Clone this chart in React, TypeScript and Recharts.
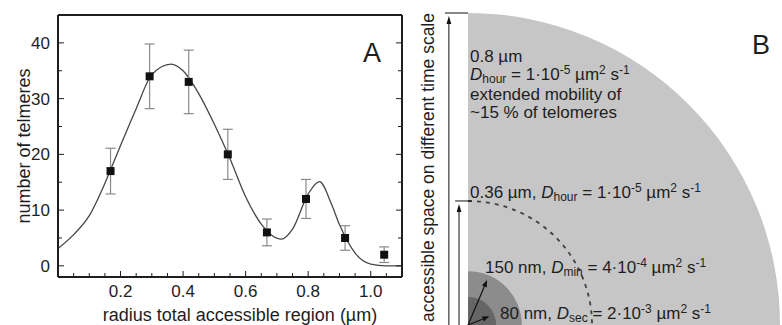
import {
  ComposedChart,
  Customized,
  ErrorBar,
  Line,
  ReferenceLine,
  Scatter,
  Sector,
  XAxis,
  YAxis,
} from "recharts";

const FONT = '"Liberation Sans", Arial, sans-serif';
const INK = "#1e1e1e";

// panel A: histogram of accessible radius (bin centres in µm)
const binRadius = [0.168, 0.293, 0.418, 0.543, 0.668, 0.793, 0.918, 1.043];
const telomereCount = [17, 34, 33, 20, 6, 12, 5, 2];
const countError = [4.1, 5.8, 5.7, 4.5, 2.4, 3.5, 2.2, 1.4];

// fitted curve
const fitRadius = [
  0, 0.05, 0.1, 0.15, 0.2, 0.25, 0.3, 0.362, 0.4, 0.45, 0.5, 0.55, 0.6, 0.65,
  0.714, 0.75, 0.8, 0.836, 0.875, 0.9, 0.95, 1.0, 1.05, 1.1,
];
const fitCount = [
  3.1, 5.6, 9.0, 14.8, 21.6, 28.2, 34.3, 36.2, 35.0, 30.9, 25.4, 19.2, 12.4,
  7.5, 4.8, 6.6, 12.9, 15.1, 11.0, 7.4, 2.3, 0.3, 0, 0,
];

const xTicks = [
  0.05, 0.1, 0.15, 0.2, 0.25, 0.3, 0.35, 0.4, 0.45, 0.5, 0.55, 0.6, 0.65, 0.7,
  0.75, 0.8, 0.85, 0.9, 0.95, 1.0, 1.05,
];
const xMajorTicks = [0.2, 0.4, 0.6, 0.8, 1.0];
const yTicks = [0, 5, 10, 15, 20, 25, 30, 35, 40];
const yMajorTicks = [0, 10, 20, 30, 40];

// panel B: radii of the sketch (µm, as drawn)
const outerRadius = 0.8;
const hourRadius = 0.318;
const minRadius = 0.138;
const secRadius = 0.072;

const pointData = binRadius.map((x, i) => ({
  x,
  count: telomereCount[i],
  err: countError[i],
}));
const fitData = fitRadius.map((x, i) => ({ x, fit: fitCount[i] }));

const isMajor = (v: number, majors: number[]) =>
  majors.some((m) => Math.abs(m - v) < 1e-6);

const frameLine = { stroke: INK, strokeWidth: 2 };

const BottomTick = (p: any) => {
  const v = p.payload.value;
  const major = isMajor(v, xMajorTicks);
  return (
    <g>
      <line x1={p.x} x2={p.x} y1={p.y} y2={p.y - (major ? 6 : 4)} stroke={INK} />
      {major && (
        <text
          x={p.x}
          y={p.y + 20}
          textAnchor="middle"
          fontSize={17}
          fill={INK}
          fontFamily={FONT}
        >
          {v.toFixed(1)}
        </text>
      )}
    </g>
  );
};

const TopTick = (p: any) => {
  const major = isMajor(p.payload.value, xMajorTicks);
  return <line x1={p.x} x2={p.x} y1={p.y} y2={p.y + (major ? 6 : 4)} stroke={INK} />;
};

const LeftTick = (p: any) => {
  const v = p.payload.value;
  const major = isMajor(v, yMajorTicks);
  return (
    <g>
      <line x1={p.x} x2={p.x + (major ? 6 : 4)} y1={p.y} y2={p.y} stroke={INK} />
      {major && (
        <text
          x={p.x - 8}
          y={p.y}
          dy="0.35em"
          textAnchor="end"
          fontSize={17}
          fill={INK}
          fontFamily={FONT}
        >
          {v}
        </text>
      )}
    </g>
  );
};

const RightTick = (p: any) => {
  const major = isMajor(p.payload.value, yMajorTicks);
  return <line x1={p.x} x2={p.x - (major ? 6 : 4)} y1={p.y} y2={p.y} stroke={INK} />;
};

const PanelAText = () => (
  <g fontFamily={FONT} fill={INK}>
    <text x={363} y={62} fontSize={27}>
      A
    </text>
    <text x={240} y={321} fontSize={18} textAnchor="middle">
      radius total accessible region (µm)
    </text>
    <text transform="translate(30,146) rotate(-90)" fontSize={18} textAnchor="middle">
      number of telmeres
    </text>
  </g>
);

type Seg = { t: string; sub?: boolean; sup?: boolean; it?: boolean };

const RichText = ({ x, y, segs }: { x: number; y: number; segs: Seg[] }) => {
  let shift = 0;
  return (
    <text x={x} y={y} fontSize={17} style={{ whiteSpace: "pre" }}>
      {segs.map((s, i) => {
        const target = s.sub ? 3 : s.sup ? -6 : 0;
        const dy = target - shift;
        shift = target;
        return (
          <tspan
            key={i}
            dy={dy}
            fontSize={s.sub || s.sup ? 12 : 17}
            fontStyle={s.it ? "italic" : undefined}
          >
            {s.t}
          </tspan>
        );
      })}
    </text>
  );
};

const diffusion = (lead: string, sub: string, mant: string, exp: string): Seg[] => [
  { t: lead },
  { t: "D", it: true },
  { t: sub, sub: true },
  { t: ` = ${mant}·10` },
  { t: exp, sup: true },
  { t: " µm" },
  { t: "2", sup: true },
  { t: " s" },
  { t: "-1", sup: true },
];

// panel B sits at x = 405 on the page; texts are laid over the chart
const PanelBText = () => (
  <g fontFamily={FONT} fill={INK}>
    <text transform="translate(29,13) rotate(-90)" fontSize={17.5} textAnchor="end">
      accessible space on different time scale
    </text>
    <text x={347} y={54} fontSize={27}>
      B
    </text>
    <text x={65} y={62} fontSize={17}>
      0.8 µm
    </text>
    <RichText x={65} y={80} segs={diffusion("", "hour", "1", "-5")} />
    <text x={65} y={100} fontSize={17}>
      extended mobility of
    </text>
    <text x={65} y={118} fontSize={17}>
      ~15 % of telomeres
    </text>
    <RichText x={65} y={198} segs={diffusion("0.36 µm, ", "hour", "1", "-5")} />
    <RichText x={80} y={273} segs={diffusion("150 nm, ", "min", "4", "-4")} />
    <RichText x={95} y={319} segs={diffusion("80 nm, ", "sec", "2", "-3")} />
  </g>
);

const diskShape = (fill: string) => (p: any) => (
  <Sector
    cx={p.x1}
    cy={p.y1}
    innerRadius={0}
    outerRadius={p.x2 - p.x1}
    startAngle={0}
    endAngle={90}
    fill={fill}
    stroke="none"
  />
);

const dashedArc = (p: any) => {
  const r = p.x2 - p.x1;
  return (
    <path
      d={`M ${p.x1} ${p.y1 - r} A ${r} ${r} 0 0 1 ${p.x1 + r} ${p.y1}`}
      fill="none"
      stroke="#404040"
      strokeWidth={1.8}
      strokeDasharray="4 5"
    />
  );
};

const radialArrow = (deg: number) => (p: any) => {
  const a = (deg * Math.PI) / 180;
  const r = p.x2 - p.x1 - 5;
  const c = Math.cos(a);
  const s = Math.sin(a);
  const tx = p.x1 + r * c;
  const ty = p.y1 - r * s;
  const bx = tx - 7 * c;
  const by = ty + 7 * s;
  return (
    <g>
      <line x1={p.x1} y1={p.y1} x2={bx} y2={by} stroke="#111" strokeWidth={1.2} />
      <polygon
        points={`${tx},${ty} ${bx + 2.6 * s},${by + 2.6 * c} ${bx - 2.6 * s},${by - 2.6 * c}`}
        fill="#111"
      />
    </g>
  );
};

const upArrow = (p: any) => {
  const tip = p.y2 + 3;
  return (
    <g>
      <line x1={p.x1} y1={p.y1} x2={p.x2} y2={tip + 7} stroke="#111" strokeWidth={1} />
      <polygon
        points={`${p.x2},${tip} ${p.x2 - 2.4},${tip + 8} ${p.x2 + 2.4},${tip + 8}`}
        fill="#111"
      />
    </g>
  );
};

const PX_PER_UM = 390;
const B_W = 377;
const B_H = 325;
const B_ORIGIN_X = 63;
const bXDomain = [-B_ORIGIN_X / PX_PER_UM, (B_W - B_ORIGIN_X) / PX_PER_UM];
const bYDomain = [0, B_H / PX_PER_UM];

// annotation bar positions (µm, left of the centre)
const outerBarX = -0.049;
const hourBarX = -0.023;

const PanelA = () => (
  <ComposedChart width={410} height={325} margin={{ top: 0, right: 0, bottom: 0, left: 0 }}>
    <XAxis
      dataKey="x"
      type="number"
      domain={[0, 1.1]}
      allowDataOverflow
      ticks={xTicks}
      interval={0}
      tick={BottomTick}
      tickLine={false}
      tickSize={0}
      tickMargin={0}
      height={48}
      axisLine={frameLine}
    />
    <XAxis
      xAxisId="top"
      orientation="top"
      type="number"
      domain={[0, 1.1]}
      allowDataOverflow
      ticks={xTicks}
      interval={0}
      tick={TopTick}
      tickLine={false}
      tickSize={0}
      tickMargin={0}
      height={15}
      axisLine={frameLine}
    />
    <YAxis
      type="number"
      domain={[-2, 45]}
      allowDataOverflow
      ticks={yTicks}
      interval={0}
      tick={LeftTick}
      tickLine={false}
      tickSize={0}
      tickMargin={0}
      width={58}
      axisLine={frameLine}
    />
    <YAxis
      yAxisId="right"
      orientation="right"
      type="number"
      domain={[-2, 45]}
      allowDataOverflow
      ticks={yTicks}
      interval={0}
      tick={RightTick}
      tickLine={false}
      tickSize={0}
      tickMargin={0}
      width={8}
      axisLine={frameLine}
    />
    <Line
      data={fitData}
      dataKey="fit"
      type="monotone"
      stroke="#474747"
      strokeWidth={1.3}
      dot={false}
      activeDot={false}
      isAnimationActive={false}
    />
    <Scatter
      data={pointData}
      dataKey="count"
      shape="square"
      fill="#111"
      isAnimationActive={false}
    >
      <ErrorBar dataKey="err" direction="y" width={5} stroke="#8a8a8a" strokeWidth={1.2} />
    </Scatter>
    <Customized component={<PanelAText />} />
  </ComposedChart>
);

const PanelB = () => (
  <ComposedChart width={B_W} height={B_H} margin={{ top: 0, right: 0, bottom: 0, left: 0 }}>
    <XAxis dataKey="x" type="number" hide domain={bXDomain} allowDataOverflow />
    <YAxis type="number" hide domain={bYDomain} allowDataOverflow />
    <ReferenceLine
      ifOverflow="visible"
      segment={[{ x: 0, y: 0 }, { x: outerRadius, y: 0 }]}
      shape={diskShape("#c6c6c6")}
    />
    <ReferenceLine
      ifOverflow="visible"
      segment={[{ x: 0, y: 0 }, { x: minRadius, y: 0 }]}
      shape={diskShape("#8c8c8c")}
    />
    <ReferenceLine
      ifOverflow="visible"
      segment={[{ x: 0, y: 0 }, { x: secRadius, y: 0 }]}
      shape={diskShape("#666666")}
    />
    <ReferenceLine
      ifOverflow="visible"
      segment={[{ x: 0, y: 0 }, { x: hourRadius, y: 0 }]}
      shape={dashedArc}
    />
    <ReferenceLine
      ifOverflow="visible"
      segment={[{ x: 0, y: 0 }, { x: minRadius, y: 0 }]}
      shape={radialArrow(67)}
    />
    <ReferenceLine
      ifOverflow="visible"
      segment={[{ x: 0, y: 0 }, { x: secRadius, y: 0 }]}
      shape={radialArrow(22)}
    />
    <ReferenceLine
      ifOverflow="visible"
      segment={[{ x: outerBarX, y: 0 }, { x: outerBarX, y: outerRadius }]}
      shape={upArrow}
    />
    <ReferenceLine
      ifOverflow="visible"
      segment={[{ x: outerBarX - 0.01, y: outerRadius }, { x: 0, y: outerRadius }]}
      stroke="#111"
      strokeWidth={1}
    />
    <ReferenceLine
      ifOverflow="visible"
      segment={[{ x: hourBarX, y: 0 }, { x: hourBarX, y: hourRadius }]}
      shape={upArrow}
    />
    <ReferenceLine
      ifOverflow="visible"
      segment={[{ x: hourBarX - 0.01, y: hourRadius }, { x: 0.01, y: hourRadius }]}
      stroke="#111"
      strokeWidth={1}
    />
  </ComposedChart>
);

export default function App() {
  return (
    <div
      style={{
        position: "absolute",
        left: 0,
        top: 0,
        width: 782,
        height: 325,
        background: "#fff",
        overflow: "hidden",
      }}
    >
      <div style={{ position: "absolute", left: 0, top: 0 }}>
        <PanelA />
      </div>
      <div style={{ position: "absolute", left: 405, top: 0 }}>
        <PanelB />
      </div>
      <svg
        width={B_W}
        height={B_H}
        style={{ position: "absolute", left: 405, top: 0, pointerEvents: "none" }}
      >
        <PanelBText />
      </svg>
    </div>
  );
}
